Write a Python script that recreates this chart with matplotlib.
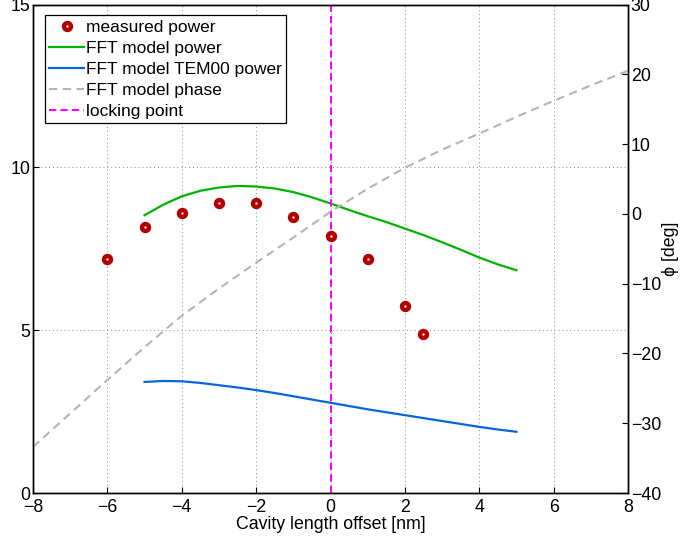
import matplotlib
matplotlib.use('Agg')
import matplotlib.pyplot as plt

plt.rcParams['font.family'] = ['Liberation Sans', 'DejaVu Sans']
plt.rcParams['axes.unicode_minus'] = True

# measured cavity power
meting_x = [-6, -5, -4, -3, -2, -1, 0, 1, 2, 2.5]
meting_p = [7.18, 8.17, 8.61, 8.90, 8.90, 8.47, 7.89, 7.18, 5.74, 4.88]

# FFT model curves
model_x = [-5, -4.5, -4, -3.5, -3, -2.5, -2, -1.5, -1, -0.5, 0,
           0.5, 1, 1.5, 2, 2.5, 3, 3.5, 4, 4.5, 5]
model_p = [8.53, 8.85, 9.11, 9.28, 9.38, 9.43, 9.41, 9.35, 9.24, 9.08, 8.89,
           8.69, 8.50, 8.32, 8.12, 7.92, 7.70, 7.47, 7.23, 7.02, 6.84]
model_tem00 = [3.41, 3.44, 3.43, 3.38, 3.31, 3.24, 3.16, 3.07, 2.97, 2.87, 2.77,
               2.67, 2.57, 2.48, 2.39, 2.30, 2.21, 2.12, 2.03, 1.95, 1.88]

fase_x = [-8, -7, -6, -5, -4, -3, -2, -1, 0, 1, 2, 3, 4, 5, 6, 7, 8]
fase = [-33.4, -28.6, -23.8, -19.1, -14.6, -10.7, -7.0, -3.4, 0.3,
        3.6, 6.6, 9.2, 11.5, 13.9, 16.2, 18.4, 20.5]

lock_x = 0

fs = 12.8

fig = plt.figure(figsize=(6.81, 5.42), dpi=100)
ax1 = fig.add_axes([33 / 681, 1 - 493 / 542, 595 / 681, 488.5 / 542])
ax2 = ax1.twinx()

h_meting, = ax1.plot(meting_x, meting_p, linestyle='none', marker='o',
                     markersize=5, markerfacecolor='white',
                     markeredgecolor='#b30000', markeredgewidth=3.2,
                     label='measured power', zorder=5)
h_model, = ax1.plot(model_x, model_p, color='#00b300', linewidth=1.6,
                    label='FFT model power')
h_tem, = ax1.plot(model_x, model_tem00, color='#0a64dc', linewidth=1.6,
                  label='FFT model TEM00 power')
h_lock = ax1.axvline(lock_x, color='#ff00ff', linewidth=1.5,
                     dashes=(3.5, 2), label='locking point')
h_fase, = ax2.plot(fase_x, fase, color='#b4b4b4', linewidth=1.5,
                   dashes=(4, 2.6), label='FFT model phase')

ax1.set_xlim(-8, 8)
ax1.set_ylim(0, 15)
ax2.set_ylim(-40, 30)
ax1.set_xticks(range(-8, 9, 2))
ax1.set_yticks([0, 5, 10, 15])
ax2.set_yticks(range(-40, 31, 10))

ax1.grid(True, linestyle=(0, (1, 3)), color='#888888', linewidth=0.7)

for ax in (ax1, ax2):
    ax.tick_params(direction='in', length=4, width=0.8, labelsize=fs, pad=2)
    for spine in ax.spines.values():
        spine.set_linewidth(1.0)
ax1.tick_params(axis='x', pad=4)

ax1.set_xlabel('Cavity length offset [nm]', fontsize=fs, labelpad=0)
ax2.set_ylabel('ϕ [deg]', fontsize=fs, labelpad=1)

ax2.legend(handles=[h_meting, h_model, h_tem, h_fase, h_lock],
           loc='upper left', bbox_to_anchor=(0.02, 0.978), fontsize=12.5,
           frameon=True, fancybox=False, edgecolor='black', framealpha=1,
           borderpad=0.25, labelspacing=0.34, handlelength=2.0,
           handletextpad=0.1, borderaxespad=0.0)
ax2.get_legend().get_frame().set_linewidth(0.9)

fig.savefig('out.png', dpi=100)
